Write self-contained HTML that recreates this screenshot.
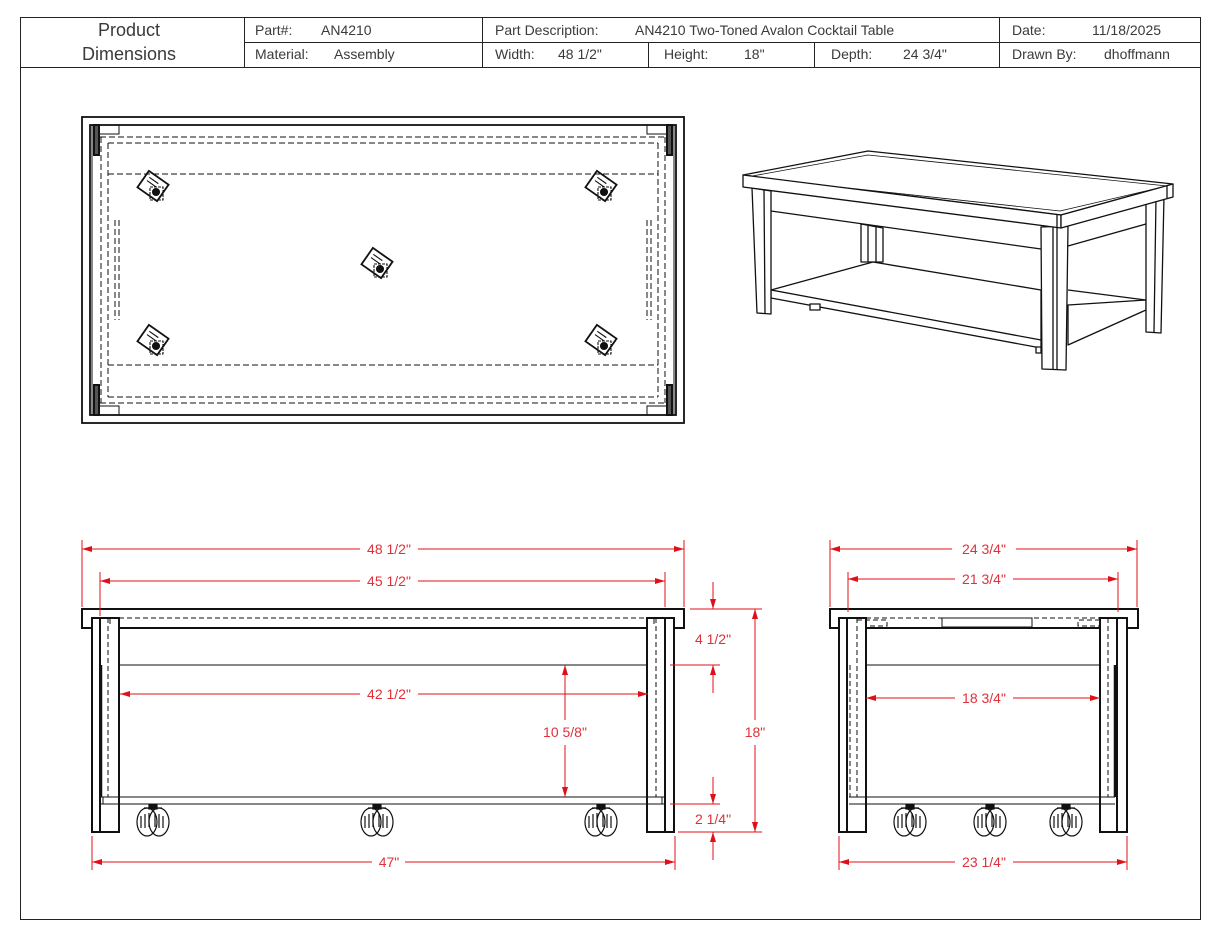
<!DOCTYPE html>
<html><head><meta charset="utf-8"><style>
html,body{margin:0;padding:0;background:#fff;}
svg{display:block;}
.h{font-family:"Liberation Sans",sans-serif;font-size:14px;fill:#3a3a3a;}
.d{font-family:"Liberation Sans",sans-serif;font-size:14px;fill:#e0303a;}
</style></head><body>
<svg width="1206" height="928" viewBox="0 0 1206 928" xmlns="http://www.w3.org/2000/svg">
<defs>
<marker id="a" viewBox="0 0 10 6" refX="10" refY="3" markerWidth="10" markerHeight="6" orient="auto-start-reverse" markerUnits="userSpaceOnUse"><path d="M0,0 L10,3 L0,6 z" fill="#e0101a"/></marker>
<g id="cst" fill="none" stroke="#111" stroke-width="1.2">
<ellipse cx="-6" cy="0" rx="10" ry="14"/><ellipse cx="6" cy="0" rx="10" ry="14"/>
<path d="M-12,-6 v12 M-8,-8 v14 M-4,-9 v14 M2,-9 v14 M6,-8 v14 M10,-6 v12"/>
<rect x="-4" y="-17" width="8" height="4" fill="#111"/><path d="M-9,-14 h18"/>
</g>
<g id="tc" fill="none" stroke="#111" stroke-width="1.1">
<g transform="rotate(35)"><rect x="-12" y="-10" width="24" height="20" stroke-width="1.8"/><path d="M-8,-5 h11 M-8,-1 h11"/></g>
<rect x="-3" y="1" width="13" height="13" stroke-dasharray="3,1"/><circle cx="3" cy="6" r="3.5" fill="#111"/>
</g>
</defs>
<g stroke="#222" stroke-width="1" fill="none">
<rect x="20.5" y="17.5" width="1180" height="902"/>
<line x1="20" y1="67.5" x2="1200" y2="67.5"/>
<line x1="244" y1="42.5" x2="1200" y2="42.5"/>
<line x1="244.5" y1="17" x2="244.5" y2="67"/>
<line x1="482.5" y1="17" x2="482.5" y2="67"/>
<line x1="648.5" y1="42" x2="648.5" y2="67"/>
<line x1="814.5" y1="42" x2="814.5" y2="67"/>
<line x1="999.5" y1="17" x2="999.5" y2="67"/>
</g>
<g class="h">
<text x="129" y="36" text-anchor="middle" font-size="18">Product</text>
<text x="129" y="60" text-anchor="middle" font-size="18">Dimensions</text>
<text x="255" y="35">Part#:</text><text x="321" y="35">AN4210</text>
<text x="255" y="59">Material:</text><text x="334" y="59">Assembly</text>
<text x="495" y="35">Part Description:</text><text x="635" y="35">AN4210 Two-Toned Avalon Cocktail Table</text>
<text x="495" y="59">Width:</text><text x="558" y="59">48 1/2"</text>
<text x="664" y="59">Height:</text><text x="744" y="59">18"</text>
<text x="831" y="59">Depth:</text><text x="903" y="59">24 3/4"</text>
<text x="1012" y="35">Date:</text><text x="1092" y="35">11/18/2025</text>
<text x="1012" y="59">Drawn By:</text><text x="1104" y="59">dhoffmann</text>
</g>

<g fill="none" stroke="#111">
<rect x="82" y="117" width="602" height="306" stroke-width="1.8"/>
<rect x="90" y="125" width="586" height="290" stroke-width="1.8"/>
<line x1="92" y1="125" x2="92" y2="415"/><line x1="674" y1="125" x2="674" y2="415"/>
<rect x="99" y="125" width="20" height="9"/><rect x="647" y="125" width="20" height="9"/>
<rect x="99" y="406" width="20" height="9"/><rect x="647" y="406" width="20" height="9"/>
<rect x="94" y="125" width="5" height="30" stroke-width="2" fill="#555"/><rect x="667" y="125" width="5" height="30" stroke-width="2" fill="#555"/>
<rect x="94" y="385" width="5" height="30" stroke-width="2" fill="#555"/><rect x="667" y="385" width="5" height="30" stroke-width="2" fill="#555"/>
<g stroke-dasharray="6,3">
<line x1="100" y1="137" x2="666" y2="137"/><line x1="108" y1="143" x2="658" y2="143"/>
<line x1="108" y1="174" x2="658" y2="174"/><line x1="108" y1="365" x2="658" y2="365"/>
<line x1="108" y1="397" x2="658" y2="397"/><line x1="100" y1="403" x2="666" y2="403"/>
<line x1="101" y1="137" x2="101" y2="403"/><line x1="108" y1="143" x2="108" y2="397"/>
<line x1="665" y1="137" x2="665" y2="403"/><line x1="658" y1="143" x2="658" y2="397"/>
<line x1="115" y1="220" x2="115" y2="320"/><line x1="119" y1="220" x2="119" y2="320"/>
<line x1="651" y1="220" x2="651" y2="320"/><line x1="647" y1="220" x2="647" y2="320"/>
</g>
</g>
<use href="#tc" x="153" y="186"/><use href="#tc" x="601" y="186"/><use href="#tc" x="377" y="263"/>
<use href="#tc" x="153" y="340"/><use href="#tc" x="601" y="340"/>

<g fill="#fff" stroke="#111" stroke-width="1.3" stroke-linejoin="round">
<path d="M861,224 L883,228 L883,262 L861,262 Z"/>
<line x1="868" y1="226" x2="868" y2="262"/><line x1="876" y1="227" x2="876" y2="262"/>
<path d="M771,290 L873,262 L1041,290 L1041,342 Z"/>
<path d="M1068,305 L1146,300 L1146,310 L1068,345 Z"/>
<line x1="1068" y1="290" x2="1146" y2="300"/>
<path d="M771,290 L1041,340 L1041,348 L771,298 Z"/>
<rect x="810" y="304" width="10" height="6"/><rect x="1036" y="347" width="5" height="6"/>
<path d="M752,188 L771,191 L771,314 L757,313 Z"/><line x1="764" y1="190" x2="765" y2="313"/>
<path d="M1146,200 L1164,196 L1161,333 L1146,332 Z"/><line x1="1156" y1="198" x2="1154" y2="332"/>
<path d="M1041,227 L1068,226 L1066,370 L1042,369 Z"/><line x1="1053" y1="227" x2="1053" y2="370"/><line x1="1057" y1="227" x2="1057" y2="370"/>
<line x1="771" y1="211" x2="1041" y2="249"/><line x1="1068" y1="246" x2="1146" y2="224"/>
<path d="M743,175 L868,151 L1173,184 L1061,215 Z"/>
<path d="M747,177 L868,155 L1167,186 L1060,211 Z" stroke-width="0.8"/>
<path d="M743,175 L743,187 L1061,228 L1061,215 Z"/>
<path d="M1061,215 L1173,184 L1173,197 L1061,228 Z"/>
<line x1="1057" y1="214" x2="1057" y2="227"/><line x1="1167" y1="186" x2="1167" y2="198"/>
</g>

<g fill="none" stroke="#111">
<rect x="82" y="609" width="602" height="19" stroke-width="2"/>
<rect x="92" y="618" width="27" height="214" stroke-width="2" fill="#fff"/>
<line x1="100" y1="618" x2="100" y2="832" stroke-width="2"/>
<rect x="647" y="618" width="27" height="214" stroke-width="2" fill="#fff"/>
<line x1="665" y1="618" x2="665" y2="832" stroke-width="2"/>
<line x1="119" y1="665" x2="647" y2="665"/>
<line x1="100" y1="797" x2="665" y2="797"/><line x1="100" y1="804" x2="665" y2="804"/>
<line x1="103" y1="797" x2="103" y2="804"/><line x1="662" y1="797" x2="662" y2="804"/>
<line x1="101" y1="665" x2="101" y2="797" stroke-width="2.5"/>
<g stroke-dasharray="5,3">
<line x1="119" y1="618" x2="647" y2="618"/>
<line x1="108" y1="618" x2="108" y2="797"/><line x1="656" y1="618" x2="656" y2="797"/>
<line x1="110" y1="619" x2="110" y2="627"/><line x1="654" y1="619" x2="654" y2="627"/>
</g>
</g>
<use href="#cst" x="153" y="822"/><use href="#cst" x="377" y="822"/><use href="#cst" x="601" y="822"/>

<g fill="none" stroke="#111">
<rect x="830" y="609" width="308" height="19" stroke-width="2"/>
<rect x="839" y="618" width="27" height="214" stroke-width="2" fill="#fff"/>
<line x1="847" y1="618" x2="847" y2="832" stroke-width="2"/>
<rect x="1100" y="618" width="27" height="214" stroke-width="2" fill="#fff"/>
<line x1="1117" y1="618" x2="1117" y2="832" stroke-width="2"/>
<line x1="866" y1="665" x2="1100" y2="665"/>
<line x1="849" y1="797" x2="1115" y2="797"/><line x1="849" y1="804" x2="1115" y2="804"/>
<line x1="1115" y1="665" x2="1115" y2="797" stroke-width="2.5"/>
<rect x="942" y="618" width="90" height="9"/>
<g stroke-dasharray="5,3">
<line x1="866" y1="618" x2="1100" y2="618"/>
<line x1="857" y1="618" x2="857" y2="797"/><line x1="1108" y1="618" x2="1108" y2="797"/>
<line x1="850" y1="665" x2="850" y2="797"/>
<path d="M857,620 H887 V626 H866"/><path d="M1100,620 H1078 V626 H1100"/>
</g>
</g>
<use href="#cst" x="910" y="822"/><use href="#cst" x="990" y="822"/><use href="#cst" x="1066" y="822"/>

<g stroke="#e0101a" stroke-width="1" fill="none">
<line x1="82" y1="540" x2="82" y2="607"/><line x1="684" y1="540" x2="684" y2="607"/>
<line x1="100" y1="572" x2="100" y2="616"/><line x1="665" y1="572" x2="665" y2="607"/>
<line x1="92" y1="836" x2="92" y2="870"/><line x1="675" y1="836" x2="675" y2="870"/>
<line x1="690" y1="609" x2="762" y2="609"/><line x1="678" y1="832" x2="762" y2="832"/>
<line x1="670" y1="665" x2="720" y2="665"/><line x1="670" y1="804" x2="720" y2="804"/>
<line x1="82" y1="549" x2="360" y2="549" marker-start="url(#a)"/><line x1="418" y1="549" x2="684" y2="549" marker-end="url(#a)"/>
<line x1="100" y1="581" x2="360" y2="581" marker-start="url(#a)"/><line x1="418" y1="581" x2="665" y2="581" marker-end="url(#a)"/>
<line x1="120" y1="694" x2="360" y2="694" marker-start="url(#a)"/><line x1="418" y1="694" x2="648" y2="694" marker-end="url(#a)"/>
<line x1="92" y1="862" x2="372" y2="862" marker-start="url(#a)"/><line x1="405" y1="862" x2="675" y2="862" marker-end="url(#a)"/>
<line x1="755" y1="609" x2="755" y2="720" marker-start="url(#a)"/><line x1="755" y1="745" x2="755" y2="832" marker-end="url(#a)"/>
<line x1="565" y1="665" x2="565" y2="720" marker-start="url(#a)"/><line x1="565" y1="745" x2="565" y2="797" marker-end="url(#a)"/>
<line x1="713" y1="582" x2="713" y2="609" marker-end="url(#a)"/><line x1="713" y1="693" x2="713" y2="665" marker-end="url(#a)"/>
<line x1="713" y1="777" x2="713" y2="804" marker-end="url(#a)"/><line x1="713" y1="860" x2="713" y2="832" marker-end="url(#a)"/>
<line x1="830" y1="540" x2="830" y2="607"/><line x1="1137" y1="540" x2="1137" y2="607"/>
<line x1="848" y1="572" x2="848" y2="612"/><line x1="1118" y1="572" x2="1118" y2="612"/>
<line x1="839" y1="836" x2="839" y2="870"/><line x1="1127" y1="836" x2="1127" y2="870"/>
<line x1="830" y1="549" x2="952" y2="549" marker-start="url(#a)"/><line x1="1016" y1="549" x2="1137" y2="549" marker-end="url(#a)"/>
<line x1="848" y1="579" x2="955" y2="579" marker-start="url(#a)"/><line x1="1013" y1="579" x2="1118" y2="579" marker-end="url(#a)"/>
<line x1="866" y1="698" x2="955" y2="698" marker-start="url(#a)"/><line x1="1013" y1="698" x2="1100" y2="698" marker-end="url(#a)"/>
<line x1="839" y1="862" x2="955" y2="862" marker-start="url(#a)"/><line x1="1013" y1="862" x2="1127" y2="862" marker-end="url(#a)"/>
</g>
<g class="d" text-anchor="middle">
<text x="389" y="554">48 1/2"</text>
<text x="389" y="586">45 1/2"</text>
<text x="389" y="699">42 1/2"</text>
<text x="389" y="867">47"</text>
<text x="565" y="737">10 5/8"</text>
<text x="755" y="737">18"</text>
<text x="713" y="644">4 1/2"</text>
<text x="713" y="824">2 1/4"</text>
<text x="984" y="554">24 3/4"</text>
<text x="984" y="584">21 3/4"</text>
<text x="984" y="703">18 3/4"</text>
<text x="984" y="867">23 1/4"</text>
</g>
</svg>
</body></html>
